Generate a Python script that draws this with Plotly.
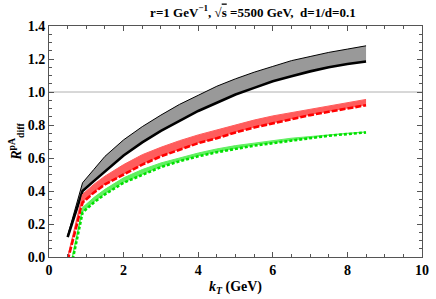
import plotly.graph_objects as go

kt = [0.5, 0.9, 1.2, 1.5, 2.0, 2.5, 3.0, 3.5, 4.0, 4.5, 5.0, 5.5, 6.0, 6.5, 7.0, 7.5, 8.0, 8.5]

black_upper = [0.13, 0.45, 0.53, 0.61, 0.71, 0.79, 0.86, 0.925, 0.98, 1.035, 1.08, 1.12, 1.155, 1.19, 1.215, 1.24, 1.26, 1.28]
black_lower = [0.12, 0.40, 0.46, 0.52, 0.615, 0.695, 0.765, 0.825, 0.885, 0.935, 0.985, 1.025, 1.065, 1.095, 1.125, 1.15, 1.17, 1.185]

red_upper = [0.0, 0.38, 0.44, 0.49, 0.56, 0.62, 0.665, 0.705, 0.74, 0.77, 0.80, 0.83, 0.855, 0.875, 0.895, 0.915, 0.935, 0.955]
red_lower = [-0.02, 0.33, 0.39, 0.44, 0.50, 0.56, 0.61, 0.65, 0.69, 0.72, 0.755, 0.785, 0.81, 0.835, 0.86, 0.88, 0.90, 0.92]

green_upper = [-0.13, 0.30, 0.36, 0.41, 0.48, 0.53, 0.57, 0.60, 0.63, 0.655, 0.675, 0.69, 0.705, 0.72, 0.73, 0.742, 0.75, 0.758]
green_lower = [-0.16, 0.27, 0.33, 0.38, 0.45, 0.50, 0.545, 0.58, 0.61, 0.635, 0.655, 0.675, 0.69, 0.705, 0.72, 0.735, 0.745, 0.755]

x_ticks = [0, 2, 4, 6, 8, 10]
y_ticks = [0.0, 0.2, 0.4, 0.6, 0.8, 1.0, 1.2, 1.4]

FONT = "Liberation Serif"

fig = go.Figure()

# reference line at 1.0
fig.add_shape(type="line", xref="paper", x0=0, x1=1, yref="y", y0=1.0, y1=1.0,
              line=dict(color="#b0b0b0", width=1), layer="below")

# black band
fig.add_trace(go.Scatter(x=kt, y=black_upper, mode="lines",
                         line=dict(color="black", width=1), showlegend=False, hoverinfo="skip"))
fig.add_trace(go.Scatter(x=kt, y=black_lower, mode="lines", fill="tonexty",
                         fillcolor="#999999", line=dict(color="black", width=2.6),
                         showlegend=False, hoverinfo="skip"))
# red band
fig.add_trace(go.Scatter(x=kt, y=red_upper, mode="lines",
                         line=dict(color="#ff5c5c", width=1), showlegend=False, hoverinfo="skip"))
fig.add_trace(go.Scatter(x=kt, y=red_lower, mode="lines", fill="tonexty",
                         fillcolor="#ff5c5c", line=dict(color="#ff0000", width=2.6, dash="6px,2px"),
                         showlegend=False, hoverinfo="skip"))
# green band
fig.add_trace(go.Scatter(x=kt, y=green_upper, mode="lines",
                         line=dict(color="#60f060", width=1), showlegend=False, hoverinfo="skip"))
fig.add_trace(go.Scatter(x=kt, y=green_lower, mode="lines", fill="tonexty",
                         fillcolor="#60f060", line=dict(color="#00e000", width=2.6, dash="3px,2px"),
                         showlegend=False, hoverinfo="skip"))

axis_common = dict(showgrid=False, zeroline=False, showline=True, linecolor="#555555",
                   linewidth=1, mirror="ticks", ticks="inside", ticklen=5, tickcolor="#555555",
                   tickfont=dict(family=FONT, size=14, color="black"))

fig.update_xaxes(range=[0, 10], tickvals=x_ticks, ticktext=[f"<b>{v}</b>" for v in x_ticks],
                 minor=dict(dtick=0.5, ticks="inside", ticklen=3, tickcolor="#555555"),
                 title=dict(text="<b><i>k<sub>T</sub></i> (GeV)</b>", font=dict(family=FONT, size=14, color="black"),
                            standoff=4),
                 **axis_common)
fig.update_yaxes(range=[0, 1.4], tickvals=y_ticks, ticktext=[f"<b>{v:.1f}</b>" for v in y_ticks],
                 minor=dict(dtick=0.05, ticks="inside", ticklen=3, tickcolor="#555555"),
                 title=dict(text="<b><i>R</i><sup>pA</sup><sub>diff</sub></b>", font=dict(family=FONT, size=14, color="black"),
                            standoff=2),
                 **axis_common)

fig.update_layout(
    width=436, height=299,
    margin=dict(l=49, r=7, t=26, b=39),
    plot_bgcolor="white", paper_bgcolor="white",
    hovermode=False,
    title=dict(text="<b>r=1 GeV<sup>−1</sup>, √<span style='text-decoration:overline'>s</span> =5500 GeV,  d=1/d=0.1</b>",
               x=0.58, xanchor="center", y=0.96, yanchor="middle",
               font=dict(family=FONT, size=13, color="black")),
)

fig.write_html("out.html", config={"displayModeBar": False, "staticPlot": True})

with open("out.html", "r", encoding="utf-8") as f:
    html = f.read()
html = html.replace("<head>", "<head><style>html,body{margin:0;padding:0;overflow:hidden;}</style>", 1)
with open("out.html", "w", encoding="utf-8") as f:
    f.write(html)
